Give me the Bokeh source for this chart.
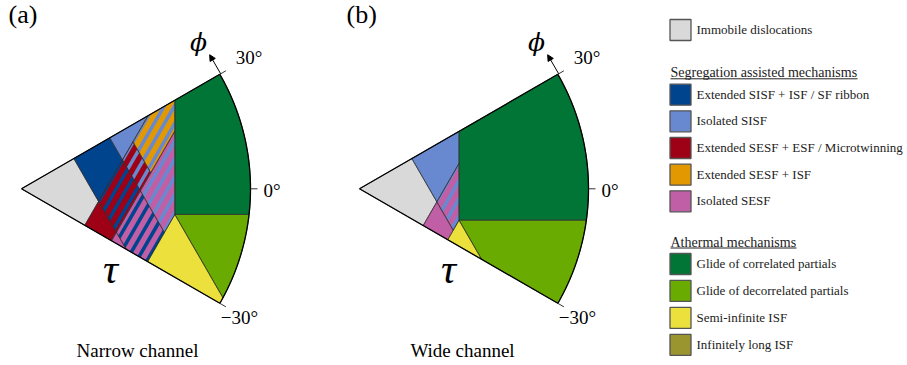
import numpy as np
from bokeh.plotting import figure
from bokeh.models import Range1d, Arrow, NormalHead
from bokeh.embed import file_html
from bokeh.resources import INLINE
from bokeh.core.properties import value

# ---------------------------------------------------------------- data
# Orientation ticks of the map (degrees) and their labels
PHI_TICKS = [30, 0, -30]
PHI_TICK_LABELS = ["30°", "0°", "−30°"]

# Critical resolved shear stresses, normalised by the largest applied stress.
# u = tau*cos(phi - 30°) acts on the +30° partial, v = tau*cos(phi + 30°) on the -30° one.
# Each list: [mobility limit, extended -> isolated fault, ISF formation]
NARROW_U = [0.264, 0.445, 0.524]
NARROW_V = [0.319, 0.454, 0.636]
WIDE_U = [0.264, 0.264, 0.308]
WIDE_V = [0.321, 0.321, 0.445]

PANEL_TAGS = ["(a)", "(b)"]
PANEL_TITLES = ["Narrow channel", "Wide channel"]

IMMOBILE = ["Immobile dislocations"]
SEGREGATION = ["Extended SISF + ISF / SF ribbon", "Isolated SISF",
               "Extended SESF + ESF / Microtwinning", "Extended SESF + ISF",
               "Isolated SESF"]
ATHERMAL = ["Glide of correlated partials", "Glide of decorrelated partials",
            "Semi-infinite ISF", "Infinitely long ISF"]
GROUP_TITLES = ["", "Segregation assisted mechanisms", "Athermal mechanisms"]

COLORS = {
    "Immobile dislocations": "#d9d9d9",
    "Extended SISF + ISF / SF ribbon": "#00448e",
    "Isolated SISF": "#6889cf",
    "Extended SESF + ESF / Microtwinning": "#9e0016",
    "Extended SESF + ISF": "#e29800",
    "Isolated SESF": "#c05fa6",
    "Glide of correlated partials": "#007535",
    "Glide of decorrelated partials": "#69ab00",
    "Semi-infinite ISF": "#ebe03c",
    "Infinitely long ISF": "#9b9530",
}

# ---------------------------------------------------------------- layout
W, H = 907, 365
R = 229                                  # px per unit stress
ORIGINS = [(21, 188.3), (359, 188.3)]    # apex of each sector (px)
STRIPE_PERIOD = 0.039
STRIPE_FILL = 0.4
SERIF = value("'Liberation Serif', 'Times New Roman', serif")
GREEK = value("'DejaVu Serif', serif")

C30, S30 = np.sqrt(3) / 2, 0.5
NORMALS = {"u": (C30, S30), "v": (C30, -S30), "x": (1.0, 0.0), "y": (0.0, 1.0)}

theta = np.radians(np.linspace(-30, 30, 241))
WEDGE = [(0.0, 0.0)] + [(np.cos(t), np.sin(t)) for t in theta]


def clip(poly, axis, op, level):
    """Sutherland-Hodgman clip of a polygon against one half-plane."""
    a, b = NORMALS[axis]
    if op == ">":
        a, b, level = -a, -b, -level
    out = []
    n = len(poly)
    for i in range(n):
        px, py = poly[i]
        qx, qy = poly[(i + 1) % n]
        fp = a * px + b * py - level
        fq = a * qx + b * qy - level
        if fp <= 0:
            out.append((px, py))
        if (fp < 0 < fq) or (fq < 0 < fp):
            t = fp / (fp - fq)
            out.append((px + t * (qx - px), py + t * (qy - py)))
    return out


def area(poly):
    if len(poly) < 3:
        return 0.0
    xs = np.array([q[0] for q in poly])
    ys = np.array([q[1] for q in poly])
    return 0.5 * abs(np.dot(xs, np.roll(ys, -1)) - np.dot(ys, np.roll(xs, -1)))


def mechanism_regions(U, V):
    u0, u1, u2 = U
    v0, v1, v2 = V
    xc = (u2 + v2) / np.sqrt(3)
    yc = u2 - v2
    ext_sisf, iso_sisf = SEGREGATION[0], SEGREGATION[1]
    ext_sesf, ext_sesf_isf, iso_sesf = SEGREGATION[2], SEGREGATION[3], SEGREGATION[4]
    return [
        (IMMOBILE[0], None, [("u", "<", u0), ("v", "<", v0)]),
        (ext_sisf, None, [("u", ">", u0), ("u", "<", u1), ("v", "<", v0)]),
        (iso_sisf, None, [("u", ">", u1), ("v", "<", v0), ("x", "<", xc)]),
        (ext_sesf, None, [("u", "<", u0), ("v", ">", v0), ("v", "<", v1)]),
        (ext_sesf, ext_sisf, [("u", ">", u0), ("u", "<", u1), ("v", ">", v0), ("v", "<", v1)]),
        (ext_sesf, iso_sisf, [("u", ">", u1), ("u", "<", u2), ("v", ">", v0), ("v", "<", v1)]),
        (ext_sesf_isf, iso_sisf, [("u", ">", u2), ("v", ">", v0), ("v", "<", v1), ("x", "<", xc)]),
        (iso_sesf, None, [("u", "<", u0), ("v", ">", v1), ("v", "<", v2)]),
        (iso_sesf, ext_sisf, [("u", ">", u0), ("u", "<", u1), ("v", ">", v1), ("v", "<", v2)]),
        (iso_sesf, iso_sisf, [("u", ">", u1), ("v", ">", v1), ("v", "<", v2), ("x", "<", xc)]),
        (ATHERMAL[2], None, [("v", ">", v2), ("u", "<", u2)]),
        (ATHERMAL[0], None, [("x", ">", xc), ("y", ">", yc)]),
        (ATHERMAL[1], None, [("y", "<", yc), ("u", ">", u2)]),
    ]


p = figure(width=W, height=H, x_range=Range1d(0, W), y_range=Range1d(H, 0),
           output_backend="svg", toolbar_location=None, min_border=0,
           x_axis_location=None, y_axis_location=None)
p.grid.visible = False
p.outline_line_color = None
p.background_fill_color = "white"
p.border_fill_color = "white"


def screen(poly, origin):
    ox, oy = origin
    return [ox + R * x for x, _ in poly], [oy - R * y for _, y in poly]


for (U, V), origin, tag, title, title_x in zip(
        [(NARROW_U, NARROW_V), (WIDE_U, WIDE_V)], ORIGINS, PANEL_TAGS,
        PANEL_TITLES, [137, 462]):
    ox, oy = origin
    fill_xs, fill_ys, fill_cs = [], [], []
    stripe_xs, stripe_ys, stripe_cs = [], [], []
    edge_xs, edge_ys = [], []
    for base, stripe, cons in mechanism_regions(U, V):
        poly = WEDGE
        for c in cons:
            poly = clip(poly, *c)
        if area(poly) < 1e-7:
            continue
        xs, ys = screen(poly, origin)
        fill_xs.append(xs); fill_ys.append(ys); fill_cs.append(COLORS[base])
        edge_xs.append(xs); edge_ys.append(ys)
        if stripe:
            for k in range(int(1.2 / STRIPE_PERIOD)):
                lo = k * STRIPE_PERIOD
                band = clip(clip(poly, "v", ">", lo), "v", "<", lo + STRIPE_FILL * STRIPE_PERIOD)
                if area(band) < 1e-8:
                    continue
                bx, by = screen(band, origin)
                stripe_xs.append(bx); stripe_ys.append(by); stripe_cs.append(COLORS[stripe])

    p.patches(fill_xs, fill_ys, fill_color=fill_cs, line_color=fill_cs, line_width=0.3)
    p.patches(stripe_xs, stripe_ys, fill_color=stripe_cs, line_color=None)
    p.patches(edge_xs, edge_ys, fill_color=None, line_color="#2b2b2b", line_width=0.6)

    # sector outline
    wx, wy = screen(WEDGE + [WEDGE[0]], origin)
    p.line(wx, wy, line_color="black", line_width=1.3)

    # orientation ticks and labels
    tick_offsets = [(16, -16.5), (13, 2), (1, 14)]
    for phi, lab, (dx, dy) in zip(PHI_TICKS, PHI_TICK_LABELS, tick_offsets):
        t = np.radians(phi)
        x1, y1 = ox + R * np.cos(t), oy - R * np.sin(t)
        x2, y2 = ox + (R + 7) * np.cos(t), oy - (R + 7) * np.sin(t)
        p.segment(x0=[x1], y0=[y1], x1=[x2], y1=[y2], line_color="#333333", line_width=1)
        p.text(x=[x1 + dx], y=[y1 + dy], text=[lab], text_font=SERIF,
               text_font_size=value("19px"), text_baseline="middle",
               text_align="left", text_color="black")

    # phi direction arrow at the +30° corner
    t = np.radians(30)
    cx, cy = ox + (R + 1) * np.cos(t), oy - (R + 1) * np.sin(t)
    p.add_layout(Arrow(end=NormalHead(size=6, fill_color="black", line_color="black"),
                       x_start=cx, y_start=cy,
                       x_end=cx - 22 * np.sin(t), y_end=cy - 22 * np.cos(t),
                       line_color="black", line_width=1))
    p.text(x=[ox + 177], y=[oy - 146], text=["ϕ"], text_font=GREEK,
           text_font_style="italic", text_font_size=value("25px"),
           text_baseline="middle", text_align="center", text_color="black")
    p.text(x=[ox + 89], y=[oy + 80], text=["τ"], text_font=SERIF,
           text_font_style="italic", text_font_size=value("42px"),
           text_baseline="middle", text_align="center", text_color="black")

    p.text(x=[ox - 13], y=[14], text=[tag], text_font=SERIF,
           text_font_size=value("26px"), text_baseline="middle",
           text_align="left", text_color="black")
    p.text(x=[title_x], y=[350], text=[title], text_font=SERIF,
           text_font_size=value("19px"), text_baseline="middle",
           text_align="center", text_color="black")

# ---------------------------------------------------------------- legend
BOX_X, BOX_SIZE, TEXT_X = 680, 21, 696
rows_y = [29.5]
rows_y += [94.2 + 26.65 * i for i in range(len(SEGREGATION))]
rows_y += [263.5 + 26.95 * i for i in range(len(ATHERMAL))]
labels = IMMOBILE + SEGREGATION + ATHERMAL
p.quad(left=[BOX_X - BOX_SIZE / 2] * len(labels), right=[BOX_X + BOX_SIZE / 2] * len(labels),
       top=[y - BOX_SIZE / 2 for y in rows_y], bottom=[y + BOX_SIZE / 2 for y in rows_y],
       fill_color=[COLORS[l] for l in labels], line_color="#555555", line_width=1.3)
p.text(x=[TEXT_X] * len(labels), y=[y - 0.5 for y in rows_y], text=labels,
       text_font=SERIF, text_font_size=value("13px"), text_baseline="middle",
       text_align="left", text_color="#222222")

head_y = [72.3, 241.5]
head_end = [857, 796]
p.text(x=[670, 670], y=head_y, text=GROUP_TITLES[1:], text_font=SERIF,
       text_font_size=value("14px"), text_baseline="middle", text_align="left",
       text_color="#222222")
p.segment(x0=[670, 670], y0=[y + 6 for y in head_y], x1=head_end,
          y1=[y + 6 for y in head_y], line_color="#222222", line_width=1)

open("out.html", "w").write(file_html(p, INLINE))
